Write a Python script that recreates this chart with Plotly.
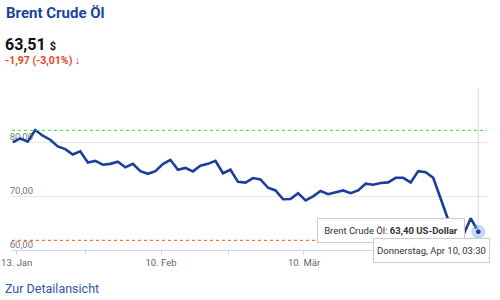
import plotly.graph_objects as go

# ---------------- data ----------------
series_name = "Brent Crude Öl"
prices = [80.05, 80.8, 80.2, 82.35, 81.3, 80.55, 79.3, 78.8, 77.8, 78.4,
          76.3, 76.6, 75.9, 76.05, 76.45, 75.4, 76.05, 74.7, 74.2, 74.7,
          76.0, 76.8, 74.95, 75.3, 74.65, 75.7, 76.05, 76.6, 74.3, 74.95,
          72.7, 72.55, 73.4, 73.15, 71.6, 71.1, 69.45, 69.5, 70.6, 69.25,
          70.0, 71.0, 70.4, 70.8, 71.1, 70.6, 71.1, 72.35, 72.15, 72.5,
          72.6, 73.45, 73.45, 72.6, 74.7, 74.5, 73.45, 69.55, 65.6, 64.2,
          62.8, 65.9, 63.4]
day_index = list(range(len(prices)))
x_tick_labels = ["13. Jan", "", "10. Feb", "", "10. Mär", "", ""]
x_tick_index = [0.53, 9.76, 19.75, 28.67, 38.79, 48.4, 58.2]
y_tick_values = [60, 70, 80, 90]
y_tick_labels = ["60,00", "70,00", "80,00", ""]
high_level = 82.3
low_level = 61.8
current_price = "63,51"
change_text = "-1,97 (-3,01%)"
hover_value_text = "63,40 US-Dollar"
hover_date_text = "Donnerstag, Apr 10, 03:30"

# ---------------- layout helpers ----------------
PL, PR, PT, PB = 12, 487, 89, 250
W, H = PR - PL, PB - PT


def px2x(px):
    return (px - PL) / W


def py2y(py):
    return (PB - py) / H


FONT = "Roboto"
LINE_COLOR = "#1d3d9b"

fig = go.Figure()

fig.add_trace(go.Scatter(
    x=day_index, y=prices, mode="lines",
    line=dict(color=LINE_COLOR, width=2.6, shape="linear"),
    hoverinfo="skip", showlegend=False,
))

# hover marker on last point
fig.add_trace(go.Scatter(
    x=[day_index[-1]], y=[prices[-1]], mode="markers",
    marker=dict(size=14, color="rgba(110,170,230,0.45)", line=dict(width=0)),
    hoverinfo="skip", showlegend=False,
))
fig.add_trace(go.Scatter(
    x=[day_index[-1]], y=[prices[-1]], mode="markers",
    marker=dict(size=6, color=LINE_COLOR, line=dict(width=1, color="white")),
    hoverinfo="skip", showlegend=False,
))

shapes = [
    dict(type="line", xref="paper", yref="y", x0=0, x1=1, y0=high_level, y1=high_level,
         line=dict(color="#33dd33", width=1, dash="dot")),
    dict(type="line", xref="paper", yref="y", x0=0, x1=1, y0=low_level, y1=low_level,
         line=dict(color="#ff4a1a", width=1, dash="dot")),
    dict(type="line", xref="x", yref="paper", x0=day_index[-1], x1=day_index[-1], y0=0, y1=1,
         line=dict(color="#d8d8d8", width=1), layer="below"),
]

annotations = [
    dict(text="<b>" + series_name + "</b>", xref="paper", yref="paper",
         x=px2x(4), y=py2y(13.5), xanchor="left", yanchor="middle", showarrow=False,
         font=dict(family=FONT, size=15, color="#1b449c")),
    dict(text="<b>" + current_price + " <span style='font-size:11px'>$</span></b>",
         xref="paper", yref="paper",
         x=px2x(3), y=py2y(44), xanchor="left", yanchor="middle", showarrow=False,
         font=dict(family=FONT, size=16, color="#111111")),
    dict(text="<b>" + change_text + " ↓</b>", xref="paper", yref="paper",
         x=px2x(3), y=py2y(60), xanchor="left", yanchor="middle", showarrow=False,
         font=dict(family=FONT, size=10.5, color="#e2441d")),
    dict(text="Zur Detailansicht", xref="paper", yref="paper",
         x=px2x(3), y=py2y(288), xanchor="left", yanchor="middle", showarrow=False,
         font=dict(family=FONT, size=12.5, color="#2d55a8")),
    dict(text=series_name + ": <b>" + hover_value_text + "</b>", xref="paper", yref="paper",
         x=px2x(391), y=py2y(230.5), xanchor="center", yanchor="middle", showarrow=False,
         width=146, height=23, borderpad=0, bgcolor="white", bordercolor="#cccccc", borderwidth=1,
         font=dict(family=FONT, size=9.5, color="#333333")),
    dict(text=hover_date_text, xref="paper", yref="paper",
         x=px2x(431.5), y=py2y(250.5), xanchor="center", yanchor="middle", showarrow=False,
         width=115, height=23, borderpad=0, bgcolor="white", bordercolor="#cccccc", borderwidth=1,
         font=dict(family=FONT, size=9.5, color="#333333")),
]

fig.update_layout(
    template="none",
    width=500, height=300,
    margin=dict(l=PL, r=500 - PR, t=PT, b=300 - PB, pad=0, autoexpand=False),
    paper_bgcolor="white", plot_bgcolor="white",
    showlegend=False,
    shapes=shapes, annotations=annotations,
    xaxis=dict(range=[-0.093, 63.16], tickvals=x_tick_index, ticktext=x_tick_labels,
               automargin=False,
               showgrid=False, zeroline=False, showline=True, linecolor="#ccd6eb", linewidth=1,
               ticks="outside", ticklen=4, tickcolor="#ccd6eb", tickwidth=1,
               tickfont=dict(family=FONT, size=9.5, color="#666666"), fixedrange=True),
    yaxis=dict(range=[60, 90], tickvals=y_tick_values, ticktext=y_tick_labels,
               automargin=False,
               showgrid=True, gridcolor="#e6e6e6", gridwidth=1, zeroline=False, showline=False,
               ticks="", ticklabelposition="outside top", ticklabelstandoff=-22,
               ticklabeloverflow="allow", ticklabelshift=1,
               tickfont=dict(family=FONT, size=9.5, color="#777777"), layer="below traces",
               fixedrange=True),
)

fig.write_html("out.html")
